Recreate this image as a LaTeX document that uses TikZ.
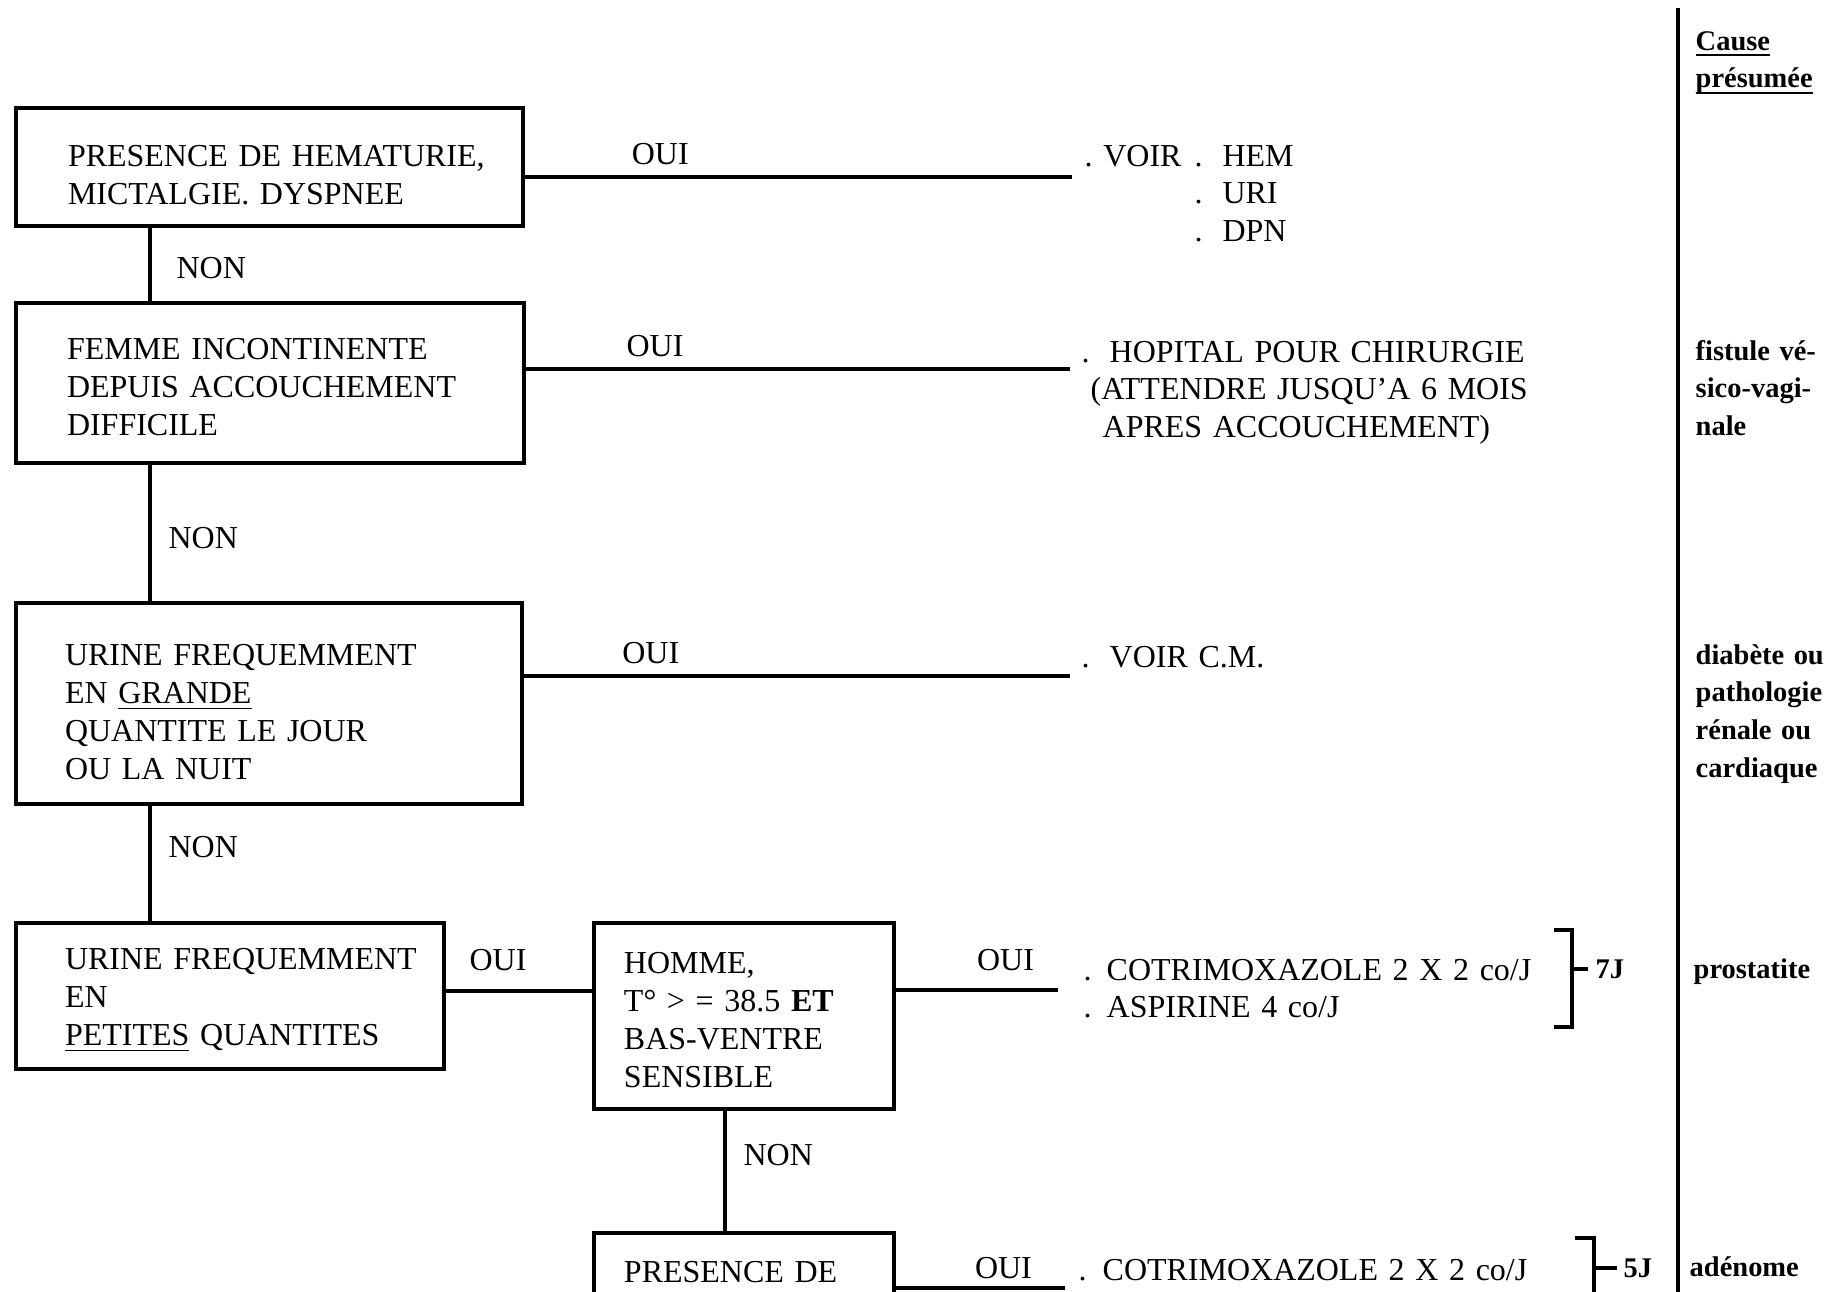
\documentclass[tikz,border=0pt]{standalone}
\usepackage{fontspec}
\setmainfont{Liberation Serif}
\usetikzlibrary{positioning}
\newcommand\mainsize{\fontsize{9.1pt}{10.8pt}\selectfont}
\newcommand\causesize{\fontsize{8.1pt}{10.8pt}\selectfont\bfseries}
\newcommand\ulword[1]{\underline{\smash{#1}}}
\tikzset{
  question/.style={draw,line width=1.2pt,outer sep=0pt,anchor=north west,align=left,inner xsep=0pt,inner ysep=0pt,text height=8.5pt,font=\mainsize,execute at begin node={\leftskip=#1}},
  question/.default=5mm,
  answer/.style={anchor=base west,align=left,inner sep=0pt,text width=75mm,font=\mainsize},
  cause/.style={anchor=base west,align=left,inner sep=0pt,text width=14mm,font=\causesize},
  days/.style={anchor=west,inner sep=0pt,font=\causesize},
  yes/.style={above=1.1mm,inner sep=0pt,font=\mainsize},
  no/.style={right=1.7mm,inner sep=0pt,font=\mainsize},
  link/.style={line width=0.9pt},
  bracket/.style={line width=1.1pt},
  divider/.style={line width=0.9pt}
}
\begin{document}
\begin{tikzpicture}[x=0.1mm,y=-0.1mm]
\useasboundingbox (0,0) rectangle (1831,1292);

% questions
\node[question=5.2mm,text width=50.7mm,minimum height=11.8mm,text height=10.8pt] (hematurie) at (16,108) {PRESENCE DE HEMATURIE,\\MICTALGIE. DYSPNEE};
\node[question=5.1mm,text width=50.8mm,minimum height=16mm,below=7.7mm of hematurie.south west,anchor=north west] (fistule) {FEMME INCONTINENTE\\DEPUIS ACCOUCHEMENT\\DIFFICILE};
\node[question=4.9mm,text width=50.6mm,minimum height=20.1mm,text height=10.8pt,below=14mm of fistule.south west,anchor=north west] (polyurie) {URINE FREQUEMMENT\\EN \ulword{GRANDE}\\QUANTITE LE JOUR\\OU LA NUIT};
\node[question=4.9mm,text width=42.8mm,minimum height=14.6mm,below=11.9mm of polyurie.south west,anchor=north west] (pollakiurie) {URINE FREQUEMMENT\\EN\\\ulword{PETITES} QUANTITES};
\node[question=3mm,text width=30mm,minimum height=18.6mm,right=15mm of pollakiurie.north east,anchor=north west] (prostate) {HOMME,\\T° > = 38.5 \textbf{ET}\\BAS-VENTRE\\SENSIBLE};
\node[question=3mm,text width=30mm,minimum height=7.6mm,text height=6.4pt,below=12.4mm of prostate.south west,anchor=north west] (adenome) {PRESENCE DE};

% what to do
\node[answer] (voirhem) at (1084,166) {.\ VOIR\hspace{1.3mm}.\hspace{2mm}HEM\\\phantom{.\ VOIR\hspace{1.3mm}}.\hspace{2mm}URI\\\phantom{.\ VOIR\hspace{1.3mm}}.\hspace{2mm}DPN};
\node[answer] (hopital) at (1081,362) {.\hspace{2mm}HOPITAL POUR CHIRURGIE\\\hspace*{0.9mm}(ATTENDRE JUSQU'A 6 MOIS\\\hspace*{2.1mm}APRES ACCOUCHEMENT)};
\node[answer] (voircm) at (1081,667) {.\hspace{2mm}VOIR C.M.};
\node[answer] (cotri7) at (1083,980) {.\hspace{1.5mm}COTRIMOXAZOLE 2 X 2 co/J\\.\hspace{1.5mm}ASPIRINE 4 co/J};
\node[answer] (cotri5) at (1078,1280) {.\hspace{1.6mm}COTRIMOXAZOLE 2 X 2 co/J};

\coordinate (r1) at (1072,177);
\coordinate (r2) at (1070,369);
\coordinate (r3) at (1070,676);
\coordinate (r5) at (1058,990);
\coordinate (r6) at (1065,1288);

% oui
\draw[link] (hematurie.east |- r1) -- node[yes,pos=0.25]{OUI} (r1);
\draw[link] (fistule.east |- r2) -- node[yes,pos=0.24]{OUI} (r2);
\draw[link] (polyurie.east |- r3) -- node[yes,pos=0.235]{OUI} (r3);
\draw[link] ([yshift=-6.8mm]pollakiurie.north east) -- node[yes,above=1.85mm,pos=0.36]{OUI} ([yshift=-6.8mm]prostate.north west);
\draw[link] (prostate.east |- r5) -- node[yes,above=1.8mm,pos=0.68]{OUI} (r5);
\draw[link] (adenome.east |- r6) -- node[yes,above=0.75mm,pos=0.64]{OUI} (r6);

% non
\draw[link] ([xshift=13.4mm]hematurie.south west) -- node[no,right=2.5mm,pos=0.545]{NON} ([xshift=13.4mm]fistule.north west);
\draw[link] ([xshift=13.4mm]fistule.south west) -- node[no,pos=0.536]{NON} ([xshift=13.4mm]polyurie.north west);
\draw[link] ([xshift=13.4mm]polyurie.south west) -- node[no,pos=0.36]{NON} ([xshift=13.4mm]pollakiurie.north west);
\draw[link] ([xshift=13.1mm]prostate.south west) -- node[no,pos=0.37]{NON} ([xshift=13.1mm]adenome.north west);

% durations
\node[days] (jours7) at (1595,969) {7J};
\draw[bracket] (1554,930) -| (1572,1027) -- (1554,1027);
\draw[bracket] (1572,969) -- ([xshift=-0.7mm]jours7.west);
\node[days] (jours5) at (1623,1268) {5J};
\draw[bracket] (1575,1238) -| (1594,1310);
\draw[bracket] (1594,1268) -- ([xshift=-0.6mm]jours5.west);

% cause column
\draw[divider] (1678,8) -- (1678,1300);
\node[cause] (causehead) at (1695,50) {\ulword{Cause}\\\ulword{présumée}};
\node[cause] (causefist) at (1695,360) {fistule vé-\\sico-vagi-\\nale};
\node[cause] (causediab) at (1695,664) {diabète ou\\pathologie\\rénale ou\\cardiaque};
\node[cause] (causeprost) at (1693,978) {prostatite};
\node[cause] (causeaden) at (1689,1276) {adénome};
\end{tikzpicture}
\end{document}
